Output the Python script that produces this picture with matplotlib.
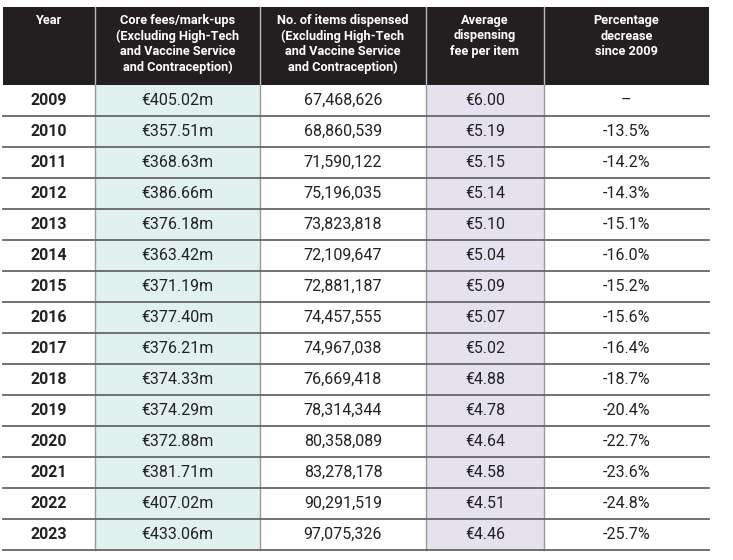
import matplotlib
matplotlib.use("Agg")
import matplotlib.pyplot as plt
from matplotlib.patches import Rectangle

years = ["2009", "2010", "2011", "2012", "2013", "2014", "2015", "2016",
         "2017", "2018", "2019", "2020", "2021", "2022", "2023"]
core_fees = ["€405.02m", "€357.51m", "€368.63m", "€386.66m", "€376.18m",
             "€363.42m", "€371.19m", "€377.40m", "€376.21m", "€374.33m",
             "€374.29m", "€372.88m", "€381.71m", "€407.02m", "€433.06m"]
items = ["67,468,626", "68,860,539", "71,590,122", "75,196,035", "73,823,818",
         "72,109,647", "72,881,187", "74,457,555", "74,967,038", "76,669,418",
         "78,314,344", "80,358,089", "83,278,178", "90,291,519", "97,075,326"]
avg_fee = ["€6.00", "€5.19", "€5.15", "€5.14", "€5.10", "€5.04", "€5.09",
           "€5.07", "€5.02", "€4.88", "€4.78", "€4.64", "€4.58", "€4.51", "€4.46"]
pct_decrease = ["–", "-13.5%", "-14.2%", "-14.3%", "-15.1%", "-16.0%", "-15.2%",
                "-15.6%", "-16.4%", "-18.7%", "-20.4%", "-22.7%", "-23.6%",
                "-24.8%", "-25.7%"]
headers = ["Year",
           "Core fees/mark-ups\n(Excluding High-Tech\nand Vaccine Service\nand Contraception)",
           "No. of items dispensed\n(Excluding High-Tech\nand Vaccine Service\nand Contraception)",
           "Average\ndispensing\nfee per item",
           "Percentage\ndecrease\nsince 2009"]

columns = [years, core_fees, items, avg_fee, pct_decrease]
col_edges = [3, 95, 260, 426, 544, 709]
col_fill = ["white", "#e1f1ef", "white", "#e6e1ef", "white"]
header_top, header_bottom = 7, 85
row_h = 31.0
dark = "#231f20"

fig = plt.figure(figsize=(7.33, 5.6), dpi=100)
ax = fig.add_axes([0, 0, 1, 1])
ax.set_xlim(0, 733)
ax.set_ylim(560, 0)
ax.axis("off")

# header
ax.add_patch(Rectangle((col_edges[0], header_top), col_edges[-1] - col_edges[0],
                       header_bottom - header_top, color=dark, lw=0))
for i, h in enumerate(headers):
    cx = (col_edges[i] + col_edges[i + 1]) / 2
    ax.text(cx, header_top + 7, h, ha="center", va="top", color="white",
            fontsize=9.2, fontweight="bold", family="Roboto", linespacing=1.25)
    if 0 < i:
        ax.plot([col_edges[i]] * 2, [header_top, header_bottom], color="#bbbbbb", lw=1)

# body
n = len(years)
for i, col in enumerate(columns):
    x0, x1 = col_edges[i], col_edges[i + 1]
    ax.add_patch(Rectangle((x0, header_bottom), x1 - x0, n * row_h,
                           color=col_fill[i], lw=0))
    for r, val in enumerate(col):
        cy = header_bottom + (r + 0.5) * row_h
        ax.text((x0 + x1) / 2, cy, val, ha="center", va="center",
                color="#222222", fontsize=11.5,
                fontweight="bold" if i == 0 else "normal", family="Roboto")

for i in range(1, len(col_edges) - 1):
    ax.plot([col_edges[i]] * 2, [header_bottom, header_bottom + n * row_h],
            color="#9a9a9a", lw=1)

for r in range(1, n + 1):
    y = header_bottom + r * row_h
    ax.plot([col_edges[0], col_edges[-1]], [y, y], color="#666666", lw=1.3)

fig.savefig("out.png", dpi=100)
